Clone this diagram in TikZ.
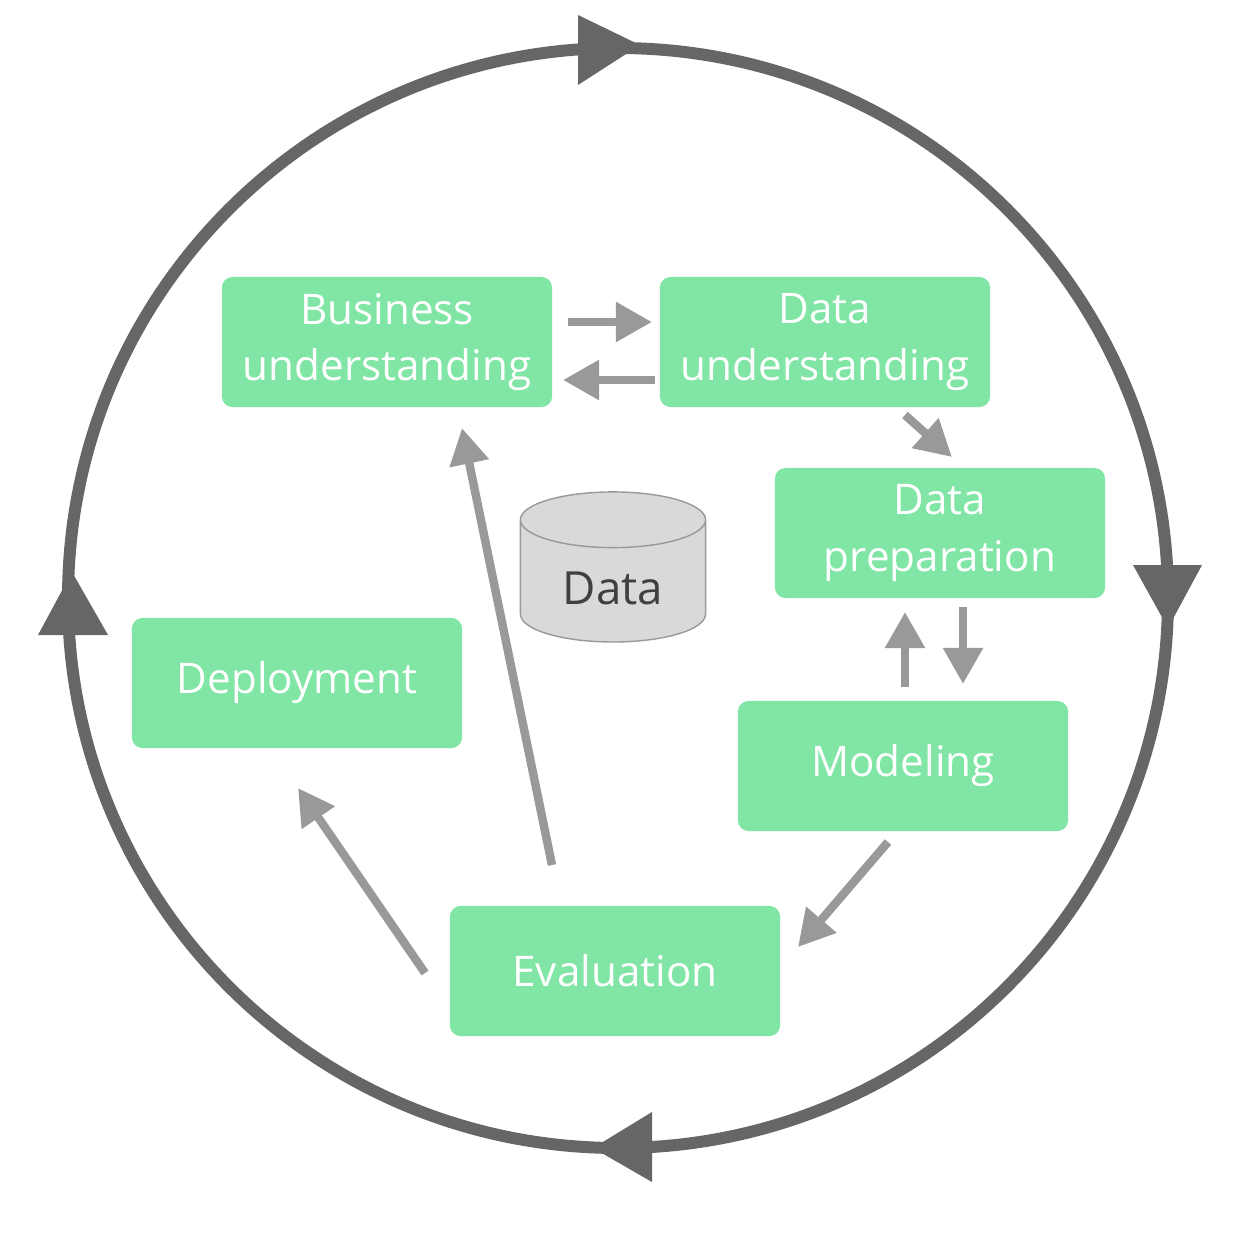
\documentclass[tikz,border=0pt]{standalone}
\usepackage{fontspec}
\setmainfont{Open Sans}
\usetikzlibrary{arrows.meta,shapes.geometric}
\definecolor{boxgreen}{HTML}{80E5A5}
\definecolor{ringgray}{HTML}{666666}
\definecolor{arrgray}{HTML}{999999}
\tikzset{
  phase/.style={fill=boxgreen, rounded corners=3pt, minimum width=3.3cm, minimum height=1.3cm,
    text=white, align=center, font=\fontsize{12}{16}\selectfont, inner sep=0pt},
  flow/.style={draw=arrgray, line width=2.4pt, -{Triangle[width=0.38cm,length=0.36cm]}},
  ringtip/.style={fill=ringgray}
}
\begin{document}
\begin{tikzpicture}[x=0.01cm,y=-0.01cm]
    % Bounding box
    \useasboundingbox (0,0) rectangle (1234,1244);

    % Outer cycle
    \draw[ringgray, line width=3.4pt] (618,598) circle (550);
    \fill[ringtip] (578,15) -- (640,45) -- (578,85) -- cycle;
    \fill[ringtip] (1133,565) -- (1168,628) -- (1202,565) -- cycle;
    \fill[ringtip] (652,1112) -- (593,1148) -- (652,1182) -- cycle;
    \fill[ringtip] (38,635) -- (72,572) -- (108,635) -- cycle;

    % Phases
    \node[phase] (bu) at (387,342) {Business\\understanding};
    \node[phase] (du) at (825,342) {Data\\understanding};
    \node[phase] (dp) at (940,533) {Data\\preparation};
    \node[phase] (mo) at (903,766) {Modeling};
    \node[phase] (ev) at (615,971) {Evaluation};
    \node[phase] (de) at (297,683) {Deployment};

    % Data store
    \node[cylinder, shape border rotate=90, draw=arrgray, fill=gray!30, aspect=0.45,
      minimum width=1.85cm, minimum height=1.5cm, font=\fontsize{13}{15}\selectfont,
      text=black!75] (data) at (613,588) {Data};

    % Flows between phases
    \coordinate (a1) at (568,322); \coordinate (a2) at (652,322);
    \coordinate (b1) at (655,380); \coordinate (b2) at (563,380);
    \coordinate (c1) at (905,415); \coordinate (c2) at (952,457);
    \coordinate (d1) at (905,687); \coordinate (d2) at (905,612);
    \coordinate (e1) at (963,607); \coordinate (e2) at (963,684);
    \coordinate (f1) at (888,842); \coordinate (f2) at (798,947);
    \coordinate (g1) at (552,865); \coordinate (g2) at (462,428);
    \coordinate (h1) at (425,973); \coordinate (h2) at (298,788);
    \foreach \s/\t in {a1/a2, b1/b2, c1/c2, d1/d2, e1/e2, f1/f2, g1/g2, h1/h2}
        \draw[flow] (\s) -- (\t);
\end{tikzpicture}
\end{document}
